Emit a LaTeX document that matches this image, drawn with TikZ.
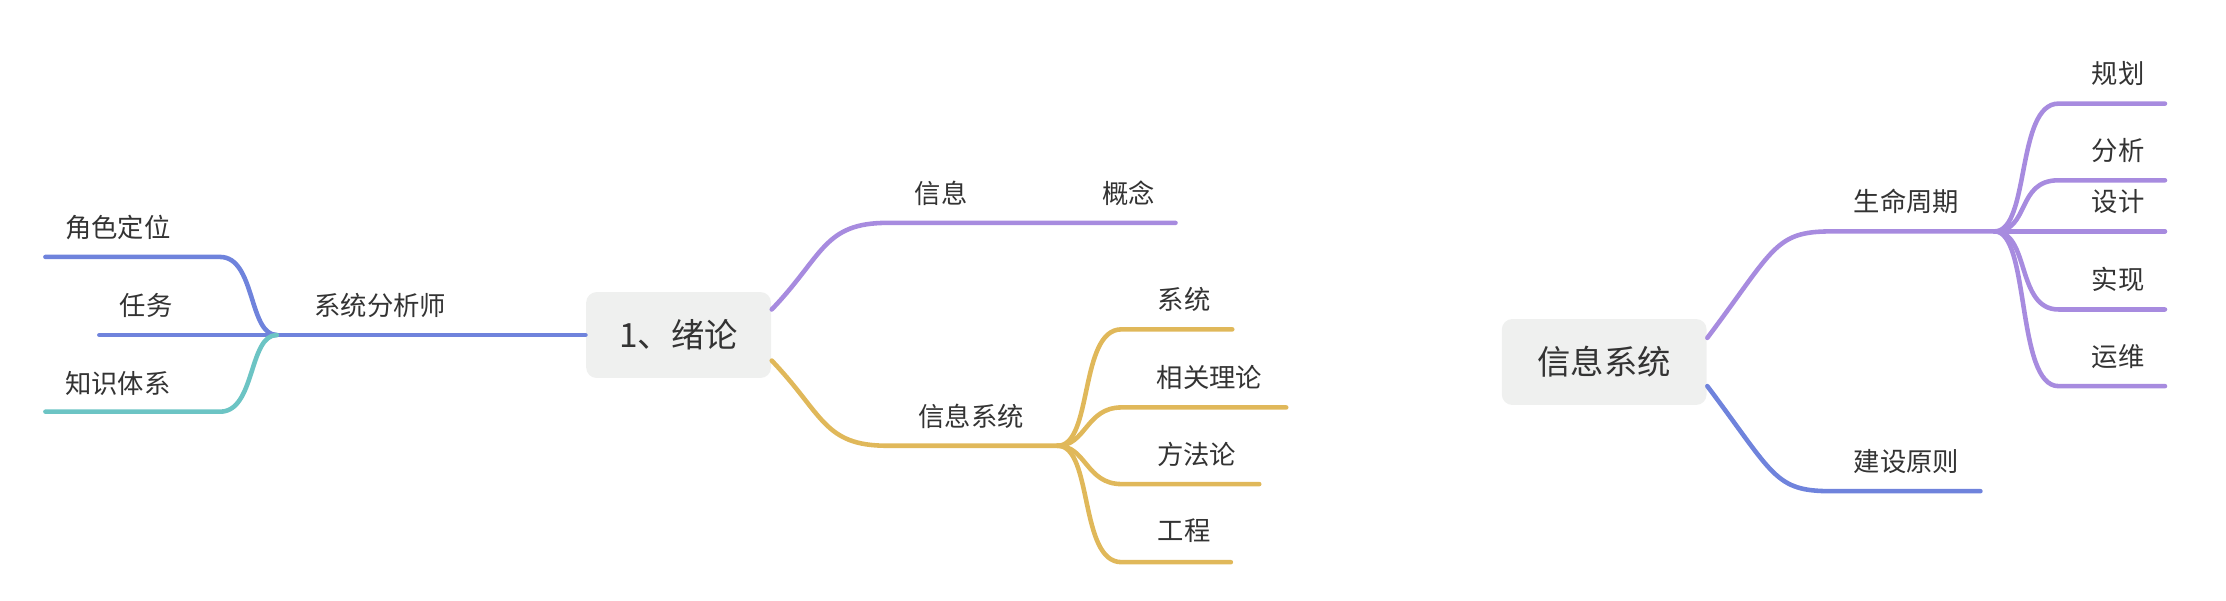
\documentclass[tikz,border=0pt]{standalone}
\usepackage{fontspec}
\newfontfamily\cjk{Noto Sans CJK SC}
\definecolor{mpurple}{HTML}{A78BDF}
\definecolor{mblue}{HTML}{6F83DC}
\definecolor{mteal}{HTML}{6CC4C4}
\definecolor{myellow}{HTML}{E0B85A}
\definecolor{mbox}{HTML}{EFF0EF}
\definecolor{mtext}{HTML}{333333}
\begin{document}
\begin{tikzpicture} [x = 0.0142cm, y = -0.0142cm]
\tikzset{
  topic/.style={fill=mbox, rounded corners=3pt, minimum height=0.86cm, font=\cjk\fontsize{9.5}{11}\selectfont, text=mtext, inner xsep=9pt},
  leaf/.style={font=\cjk\fontsize{7.5}{9}\selectfont, text=mtext},
  branch/.style={line width=1.3pt, line cap=round}
}
\useasboundingbox (0, 0) rectangle (1568, 423);
% left map
\node[topic, minimum width=1.85cm] (intro) at (478, 236){1、绪论};
\coordinate (sa) at (195, 236);
\node[leaf] (sa text) at (268, 215){系统分析师};
\draw[branch, mblue] (intro.west) -- (sa);
\node[leaf] (role) at (83, 160){角色定位};
\node[leaf] (task) at (103, 215){任务};
\node[leaf] (know) at (83, 270){知识体系};
\draw[branch, mblue] (sa) .. controls (175, 236) and (180, 181) .. (155, 181) -- (32, 181);
\draw[branch, mblue] (sa) -- (70, 236);
\draw[branch, mteal] (sa) .. controls (175, 236) and (180, 290) .. (155, 290) -- (32, 290);
% info
\node[leaf] (info) at (663, 136){信息};
\node[leaf] (concept) at (795, 136){概念};
\draw[branch, mpurple] (intro.east |- 0, 218) .. controls (580, 180) and (580, 157) .. (625, 157) -- (828, 157);
% information system
\node[leaf] (infosys) at (684, 293){信息系统};
\coordinate (is) at (745, 314);
\draw[branch, myellow] (intro.east |- 0, 254) .. controls (580, 292) and (580, 314) .. (625, 314) -- (is);
\node[leaf] (sys) at (834, 211){系统};
\node[leaf] (theory) at (852, 266){相关理论};
\node[leaf] (method) at (843, 320){方法论};
\node[leaf] (eng) at (834, 374){工程};
\draw[branch, myellow] (is) .. controls (770, 314) and (760, 232) .. (790, 232) -- (868, 232);
\draw[branch, myellow] (is) .. controls (765, 314) and (765, 287) .. (790, 287) -- (906, 287);
\draw[branch, myellow] (is) .. controls (765, 314) and (765, 341) .. (790, 341) -- (887, 341);
\draw[branch, myellow] (is) .. controls (770, 314) and (760, 396) .. (790, 396) -- (867, 396);
% right map
\node[topic, minimum width=2.05cm] (system) at (1130, 255){信息系统};
\node[leaf] (life) at (1343, 142){生命周期};
\coordinate (lc) at (1405, 163);
\draw[branch, mpurple] (system.east |- 0, 238) .. controls (1250, 175) and (1250, 163) .. (1290, 163) -- (lc);
\node[leaf] (build) at (1343, 325){建设原则};
\draw[branch, mblue] (system.east |- 0, 272) .. controls (1250, 335) and (1250, 346) .. (1290, 346) -- (1395, 346);
\foreach \name/\y in {规划/73, 分析/127, 设计/163, 实现/218, 运维/272}{
  \node[leaf] (phase \y) at (1492, \y - 21){\name};
  \draw[branch, mpurple] (lc) .. controls (1430, 163) and (1420, \y) .. (1450, \y) -- (1525, \y);
}
\end{tikzpicture}
\end{document}
